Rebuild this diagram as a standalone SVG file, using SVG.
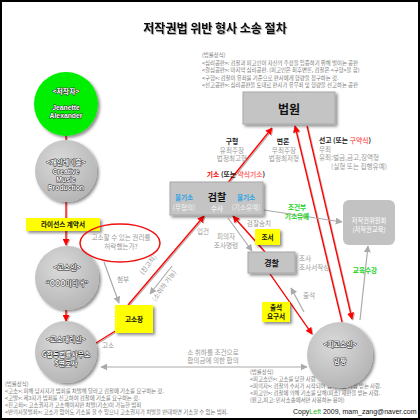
<svg xmlns="http://www.w3.org/2000/svg" width="420" height="420" viewBox="0 0 420 420">
<style>
text{font-family:"Noto Sans CJK KR","Noto Sans",sans-serif}
.ttl{font-size:12px;font-weight:bold;fill:#111}
.leg{font-size:5.4px;fill:#777}
.lbl{font-size:6.6px;fill:#999}
.bk{font-size:6.8px;font-weight:bold;fill:#222}
.ct{font-size:6.8px;font-weight:bold;fill:#fff;stroke:#222;stroke-width:0.9px;paint-order:stroke;stroke-linejoin:round}
.lat{font-family:"Liberation Sans",Arial,sans-serif}
.box{fill:#c4c4c4;stroke:#a8a8a8;stroke-width:1}
.yel{fill:#ffff00}
.yt{font-size:6.6px;font-weight:bold;fill:#111}
.red{stroke:#ff0000;stroke-width:1.3;fill:none;marker-end:url(#ar)}
.gry{stroke:#aaa;stroke-width:1.2;fill:none;marker-end:url(#ag)}
.blue{font-size:6.6px;font-weight:bold;fill:#29a3e6}
.grn{font-size:6.6px;font-weight:bold;fill:#1cd21c}
</style>
<defs>
<marker id="ar" viewBox="0 0 10 10" refX="9" refY="5" markerWidth="7" markerHeight="7" markerUnits="userSpaceOnUse" orient="auto"><path d="M0,0 L10,5 L0,10 z" fill="#ff0000"/></marker>
<marker id="ag" viewBox="0 0 10 10" refX="9" refY="5" markerWidth="7" markerHeight="7" markerUnits="userSpaceOnUse" orient="auto-start-reverse"><path d="M0,0 L10,5 L0,10 z" fill="#aaa"/></marker>
<filter id="sh" x="-20%" y="-20%" width="150%" height="150%"><feDropShadow dx="2" dy="2" stdDeviation="1.5" flood-color="#000" flood-opacity="0.45"/></filter>
<filter id="lsh" x="-10%" y="-10%" width="120%" height="120%"><feDropShadow dx="1" dy="1" stdDeviation="0.6" flood-color="#000" flood-opacity="0.3"/></filter>
<radialGradient id="gg" cx="40%" cy="35%" r="70%"><stop offset="0" stop-color="#dadada"/><stop offset="1" stop-color="#b4b4b4"/></radialGradient>
</defs>
<rect x="0" y="0" width="420" height="420" fill="#fff"/>
<rect x="1" y="1" width="418" height="418" fill="none" stroke="#000" stroke-width="2"/>

<text x="215" y="33" text-anchor="middle" class="ttl" filter="url(#lsh)">저작권법 위반 형사 소송 절차</text>

<g id="legend-top" class="leg">
<text x="202" y="57">(법률상식)</text>
<text x="202" y="64.5">&lt;심리공판&gt;: 검찰과 피고인이 자신의 주장을 입증하기 위해 벌이는 공판</text>
<text x="202" y="72">&lt;결심공판&gt;: 마지막 심리공판. (피고인은 최후변론, 검찰은 &lt;구형&gt;을 함)</text>
<text x="202" y="79.5">&lt;구형&gt;: 검찰이 유죄를 기준으로 판사에게 형량을 청구하는 것.</text>
<text x="202" y="87">&lt;선고공판&gt;: 심리공판을 토대로 판사가 유무죄 및 형량을 선고하는 공판</text>
</g>

<g id="legend-right" class="leg">
<text x="250" y="374">(법률상식)</text>
<text x="250" y="381">&lt;피고소인&gt;: 고소를 당한 사람</text>
<text x="250" y="388">&lt;피의자&gt;: 검찰의 수사가 시작되어 범죄자로 의심 받는 사람.</text>
<text x="250" y="395">&lt;피고인&gt;: 검찰에 의해 기소를 당해(피소) 재판을 받는 사람.</text>
<text x="250" y="402">(원고,피고: 민사소송에서만 사용하는 용어)</text>
</g>

<g id="connectors">
<g filter="url(#lsh)">
<line class="red" x1="66" y1="136" x2="66" y2="153"/>
<line class="red" x1="66" y1="202" x2="66" y2="245"/>
<line class="red" x1="66" y1="310" x2="66" y2="321"/>
<line stroke="#ff0000" stroke-width="1.3" x1="117" y1="330" x2="96" y2="343"/>
<line class="red" x1="128" y1="305" x2="204" y2="216"/>
<line class="red" x1="226" y1="185" x2="272" y2="128"/>
<line class="red" x1="342" y1="322" x2="295" y2="126"/>
<line class="red" x1="307" y1="126" x2="352" y2="319"/>
<line class="red" x1="265" y1="252" x2="233" y2="216"/>
<line class="red" x1="270" y1="274" x2="312" y2="334"/>
</g>
<line class="gry" x1="172" y1="266" x2="150" y2="294"/>
<line class="gry" x1="104" y1="262" x2="119" y2="303"/>
<line class="gry" x1="264" y1="210" x2="342" y2="222"/>
<line class="gry" x1="360" y1="320" x2="368" y2="246"/>
<line class="gry" x1="228" y1="218" x2="252" y2="251"/>
<line class="gry" x1="304" y1="312" x2="291" y2="288"/>
<line class="gry" x1="101" y1="367" x2="307" y2="367" style="marker-start:url(#ag)"/>
</g>

<g id="n-author">
<circle cx="66" cy="104" r="32" fill="#00ee00" filter="url(#sh)"/>
<text x="66" y="94" text-anchor="middle" class="ct">&lt;저작자&gt;</text>
<text x="66" y="110" text-anchor="middle" class="ct lat">Jeanette</text>
<text x="66" y="118" text-anchor="middle" class="ct lat">Alexander</text>
</g>

<g id="n-label">
<circle cx="66" cy="171" r="31" fill="url(#gg)" filter="url(#sh)"/>
<text x="66" y="165" text-anchor="middle" class="ct">&lt;개인레이블&gt;</text>
<text x="66" y="174" text-anchor="middle" class="ct lat">Creative</text>
<text x="66" y="182" text-anchor="middle" class="ct lat">Music</text>
<text x="66" y="190" text-anchor="middle" class="ct lat">Production</text>
</g>

<g id="n-license">
<rect x="26" y="218" width="74" height="13" class="yel" filter="url(#sh)"/>
<text x="63" y="227.3" text-anchor="middle" class="yt">라이선스 계약서</text>
</g>

<g id="n-complainant">
<circle cx="67" cy="278" r="32" fill="url(#gg)" filter="url(#sh)"/>
<text x="67" y="270" text-anchor="middle" class="ct">&lt;고소인&gt;</text>
<text x="67" y="286" text-anchor="middle" class="ct">“OOO미디어”</text>
</g>

<g id="n-agent">
<circle cx="66" cy="352" r="31" fill="url(#gg)" filter="url(#sh)"/>
<text x="66" y="342" text-anchor="middle" class="ct">&lt;고소대리인&gt;</text>
<text x="66" y="357" text-anchor="middle" class="ct">G합동법률사무소</text>
<text x="66" y="366" text-anchor="middle" class="ct">S변호사</text>
</g>

<g id="n-question">
<ellipse cx="120" cy="243" rx="40" ry="19" fill="none" stroke="#ee1111" stroke-width="1.5"/>
<text x="121" y="240" text-anchor="middle" class="lbl">고소할 수 있는 권리를</text>
<text x="121" y="249" text-anchor="middle" class="lbl">허락했는가?</text>
</g>

<g id="n-complaint">
<rect x="115" y="305" width="38" height="28" class="yel" filter="url(#sh)"/>
<text x="134" y="321.5" text-anchor="middle" class="yt">고소장</text>
</g>

<g id="n-court">
<rect x="243" y="92" width="92" height="32" class="box" filter="url(#sh)"/>
<text x="289" y="114" text-anchor="middle" style="font-size:12px;font-weight:bold;fill:#111">법원</text>
</g>

<g id="n-prosecution">
<rect x="170" y="182" width="93" height="33" class="box" filter="url(#sh)"/>
<text x="217" y="201" text-anchor="middle" style="font-size:10px;font-weight:bold;fill:#111">검찰</text>
<text x="217" y="211" text-anchor="middle" style="font-size:6.6px;fill:#fff">수사</text>
<text x="184" y="200" text-anchor="middle" class="blue">불기소</text>
<text x="184" y="210" text-anchor="middle" style="font-size:6.6px;fill:#f2f2f2">(무혐의)</text>
<text x="246" y="200" text-anchor="middle" class="blue">불기소</text>
<text x="246" y="210" text-anchor="middle" style="font-size:6.6px;fill:#f2f2f2">(기소유예)</text>
</g>

<g id="n-police">
<rect x="248" y="252" width="47" height="21" class="box" filter="url(#sh)"/>
<text x="271.5" y="265.5" text-anchor="middle" style="font-size:8px;font-weight:bold;fill:#111">경찰</text>
</g>

<g id="n-record">
<rect x="255" y="229" width="25" height="16" class="yel" filter="url(#sh)"/>
<text x="267.5" y="239.5" text-anchor="middle" class="yt">조서</text>
</g>

<g id="n-summons">
<rect x="262" y="302" width="28" height="20" class="yel" filter="url(#sh)"/>
<text x="276" y="310" text-anchor="middle" class="yt">출석</text>
<text x="276" y="319" text-anchor="middle" class="yt">요구서</text>
</g>

<g id="n-committee">
<rect x="343" y="200" width="52" height="45" rx="6" fill="#c2c2c2"/>
<text x="369" y="223" text-anchor="middle" style="font-size:6.3px;fill:#fff">저작권위원회</text>
<text x="369" y="232" text-anchor="middle" style="font-size:6.3px;fill:#fff">(저작권교육)</text>
</g>

<g id="n-accused">
<circle cx="340" cy="355" r="33" fill="url(#gg)" filter="url(#sh)"/>
<text x="340" y="347" text-anchor="middle" class="ct">&lt;피고소인&gt;</text>
<text x="340" y="364" text-anchor="middle" class="ct">맘짱</text>
</g>

<g id="labels">
<text x="232" y="144" text-anchor="middle" class="bk">구형</text>
<text x="232" y="152.5" text-anchor="middle" class="lbl">유죄주장</text>
<text x="232" y="161" text-anchor="middle" class="lbl">법정최고형</text>
<text x="283" y="144" text-anchor="middle" class="bk">변론</text>
<text x="284" y="152.5" text-anchor="middle" class="lbl">무죄주장</text>
<text x="284" y="161" text-anchor="middle" class="lbl">법정최저형</text>
<text x="236" y="177" text-anchor="middle" class="bk"><tspan fill="#ff0000">기소</tspan> (또는 <tspan fill="#ff7070">약식기소</tspan>)</text>
<text x="319" y="143" class="bk">선고 (또는 <tspan fill="#ff7070">구약식</tspan>)</text>
<text x="319" y="151.5" class="lbl">무죄</text>
<text x="319" y="160" class="lbl">유죄:벌금,금고,징역형</text>
<text x="331" y="168.5" class="lbl">(실형 또는 집행유예)</text>
<text x="297" y="210" text-anchor="middle" class="grn">조건부</text>
<text x="297" y="219" text-anchor="middle" class="grn">기소유예</text>
<text x="365" y="273" text-anchor="middle" class="grn">교육수강</text>
<text x="203" y="234" text-anchor="middle" class="lbl">입건</text>
<text x="259" y="226" text-anchor="middle" class="lbl">검찰송치</text>
<text x="226" y="239" text-anchor="middle" class="lbl">피의자</text>
<text x="226" y="247.5" text-anchor="middle" class="lbl">조사명령</text>
<text x="299" y="261" class="lbl">조사</text>
<text x="299" y="269.5" class="lbl">조사서작성</text>
<text x="303" y="298" class="lbl">출석</text>
<text x="117" y="282" class="lbl">첨부</text>
<text x="102" y="348" class="lbl">고소</text>
<text x="150" y="266" text-anchor="middle" class="lbl" transform="rotate(-52 150 266)">(친고죄)</text>
<text x="166" y="287" text-anchor="middle" class="lbl" transform="rotate(-55 166 287)">(소취하 가능)</text>
<text x="213" y="354.5" text-anchor="middle" class="lbl">소 취하를 조건으로</text>
<text x="213" y="363" text-anchor="middle" class="lbl">합의금에 의한 합의</text>
</g>

<g id="legend-bottom" class="leg">
<text x="5" y="386">(법률상식)</text>
<text x="5" y="393">&lt;고소&gt;: 피해 당사자가 범죄를 처벌해 달라고 검찰에 기소를 요구하는 것.</text>
<text x="5" y="400">&lt;고발&gt;: 제3자가 범죄를 신고하여 검찰에 기소를 요구하는 것.</text>
<text x="5" y="407">&lt;친고죄&gt;: 고소권자가 고소해야지만 처벌(기소)이 가능한 범죄</text>
<text x="5" y="414">&lt;반의사불벌죄&gt;: 고소가 없어도 기소를 할 수 있으나 고소권자가 처벌을 반대하면 기소할 수 없는 범죄.</text>
</g>
<text x="293" y="414" style="font-family:'Liberation Sans',sans-serif;font-size:7px;fill:#111">Copy<tspan fill="#22bb22">Left</tspan> 2009, mam_zang@naver.com</text>
</svg>
